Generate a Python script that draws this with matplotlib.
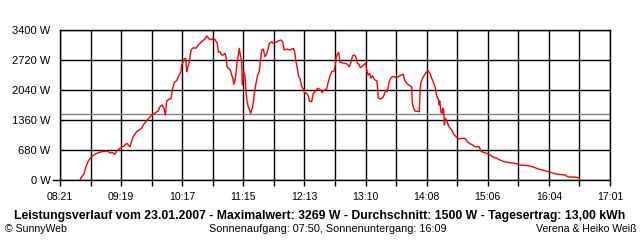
import numpy as np
import matplotlib.pyplot as plt

# Tagesverlauf: Uhrzeit in Minuten seit Mitternacht, Leistung in W
minutes = [519.9, 521.5, 523.7, 525.6, 527.8, 530.0, 531.9, 534.1, 537.2, 540.4,
           545.7, 548.3, 550.2, 553.0, 554.6, 557.7, 561.8, 564.1, 567.2, 568.8,
           570.3, 573.5, 578.2, 579.8, 583.5, 587.7, 591.8, 593.9, 595.5, 597.4,
           599.3, 600.6, 601.9, 604.3, 605.9, 607.2, 609.1, 611.3, 612.8, 615.4,
           616.1, 618.5, 619.8, 620.8, 621.7, 623.0, 624.9, 627.0, 629.3, 631.2,
           633.4, 635.5, 638.1, 639.7, 641.9, 644.4, 645.9, 647.5, 649.7, 650.7,
           652.3, 653.9, 655.4, 657.0, 657.9, 658.9, 660.1, 662.0, 663.3, 664.6,
           665.2, 666.5, 667.4, 668.3, 669.6, 670.5, 671.5, 672.8, 673.3, 674.7,
           675.9, 676.9, 677.8, 679.0, 680.6, 681.3, 682.8, 683.8, 684.7, 685.6,
           686.6, 687.9, 689.4, 691.7, 693.2, 694.8, 696.4, 697.9, 698.9, 701.2,
           702.7, 705.2, 707.4, 709.7, 711.6, 712.8, 715.3, 718.5, 720.3, 721.6,
           722.9, 724.1, 725.4, 726.7, 727.9, 729.5, 731.0, 732.6, 734.2, 735.7,
           736.7, 738.9, 740.5, 742.1, 743.7, 745.2, 747.5, 749.0, 750.6, 753.1,
           754.7, 756.3, 757.9, 760.1, 761.0, 761.9, 763.2, 764.5, 765.7, 771.4,
           772.6, 774.5, 775.8, 777.7, 779.6, 780.9, 782.1, 783.7, 784.9, 786.8,
           788.7, 790.0, 791.3, 792.5, 793.8, 795.0, 796.3, 797.6, 798.8, 800.7,
           801.9, 803.5, 805.2, 806.7, 808.3, 809.2, 810.5, 811.4, 812.3, 813.7,
           815.2, 817.1, 819.3, 820.8, 823.4, 825.6, 826.5, 827.8, 829.7, 831.9,
           833.5, 834.1, 835.4, 836.6, 840.7, 841.6, 842.3, 843.5, 844.5, 846.1,
           847.7, 849.2, 850.8, 852.4, 853.9, 855.5, 857.1, 858.7, 859.3, 860.0,
           861.2, 862.4, 862.8, 863.8, 864.3, 865.6, 866.9, 868.8, 871.3, 873.2,
           875.4, 876.6, 878.5, 880.8, 883.0, 884.8, 886.1, 888.6, 891.2, 893.4,
           897.4, 898.8, 901.2, 904.4, 907.5, 910.7, 913.9, 917.0, 920.8, 926.5,
           931.2, 935.9, 943.8, 948.5, 953.2, 958.0, 962.7, 967.4, 972.1, 978.5,
           981.6, 986.3, 992.0, 992.2]
watts = [0, 75, 136, 301, 431, 505, 551, 583, 619, 641,
         657, 612, 628, 583, 657, 719, 777, 832, 755, 884,
         981, 1095, 1172, 1247, 1360, 1473, 1535, 1564, 1661, 1700,
         1625, 1473, 1791, 1836, 1836, 2040, 2215, 2251, 2341, 2455,
         2607, 2743, 2759, 2455, 2546, 2645, 2947, 2999, 2985, 3044,
         3099, 3151, 3196, 3269, 3196, 3180, 3225, 3180, 3099, 2895,
         2908, 2833, 2833, 2872, 2795, 2568, 2532, 2493, 2380, 2289,
         2169, 2267, 2419, 2645, 2833, 2985, 2833, 2681, 2153, 2455,
         2341, 2001, 1791, 1661, 1564, 1512, 1625, 1761, 1965, 2092,
         2228, 2380, 2455, 2947, 2969, 2795, 2849, 2985, 3099, 3135,
         3099, 3121, 3151, 3173, 3135, 2947, 2969, 2947, 2969, 2985,
         2908, 2681, 2532, 2341, 2305, 2115, 2063, 1965, 1965, 1911,
         1791, 1775, 1965, 2001, 2056, 2079, 2033, 1979, 2040, 2063,
         2228, 2364, 2455, 2471, 2568, 2759, 2849, 2895, 2668, 2636,
         2623, 2568, 2645, 2817, 2833, 2781, 2645, 2623, 2546, 2577,
         2623, 2645, 2455, 2380, 2419, 2305, 2364, 2305, 2267, 2244,
         1866, 1836, 1852, 1888, 1988, 2040, 2001, 2115, 2228, 2305,
         2341, 2341, 2319, 2341, 2380, 2396, 2289, 2228, 2169, 2137,
         2115, 1739, 1625, 1564, 1548, 2079, 2215, 2289, 2341, 2396,
         2455, 2471, 2419, 2305, 2228, 2115, 1911, 1836, 1700, 1791,
         1534, 1512, 1625, 1564, 1247, 1399, 1321, 1208, 1133, 1036,
         981, 959, 929, 945, 945, 929, 868, 823, 793, 755,
         755, 657, 628, 605, 567, 521, 492, 453, 415, 392,
         379, 340, 324, 295, 249, 220, 188, 152, 129, 113,
         68, 68, 52, 23]

average = 1500
y_ticks = [0, 680, 1360, 2040, 2720, 3400]
x_labels = ["08:21", "09:19", "10:17", "11:15", "12:13",
            "13:10", "14:08", "15:06", "16:04", "17:01"]
t_start, t_end = 501, 1021

plt.rcParams['font.family'] = ['Liberation Sans', 'DejaVu Sans']

fig = plt.figure(figsize=(6.4, 2.4), dpi=100)
ax = fig.add_axes([60/640, 60/240, 550/640, 150/240])

grid = np.linspace(t_start, t_end, 19)
ax.set_xticks(grid[::2])
ax.set_xticklabels(x_labels)
ax.set_xticks(grid[1::2], minor=True)
ax.set_yticks(y_ticks)
ax.set_yticklabels([f"{v} W" for v in y_ticks])
ax.set_xlim(t_start, t_end)
ax.set_ylim(0, 3400)

for g in grid:
    ax.axvline(g, color='black', lw=1, zorder=1)
for v in y_ticks:
    ax.axhline(v, color='black', lw=1, zorder=1)
# Nulllinie ragt links etwas über die Achse hinaus
ax.axhline(0, xmin=-7/550, xmax=0, color='black', lw=1, clip_on=False)
ax.axhline(average, color='#808080', lw=1, zorder=2)

ax.plot(minutes, watts, color='red', lw=1, zorder=3)

ax.tick_params(axis='x', which='both', length=4.5, width=1, direction='out',
               labelsize=7.6, pad=4, color='black')
ax.tick_params(axis='y', length=0, labelsize=8, pad=7)
for s in ax.spines.values():
    s.set_linewidth(1)

fig.text(0.5, 24.5/240, "Leistungsverlauf vom 23.01.2007 - Maximalwert: 3269 W - "
         "Durchschnitt: 1500 W - Tagesertrag: 13,00 kWh",
         ha='center', va='center', fontsize=8.8, fontweight='bold')
fig.text(5/640, 10.5/240, "© SunnyWeb", ha='left', va='center', fontsize=7.6)
fig.text(328/640, 10.5/240, "Sonnenaufgang: 07:50, Sonnenuntergang: 16:09",
         ha='center', va='center', fontsize=7.8)
fig.text(636/640, 10.5/240, "Verena & Heiko Weiß", ha='right', va='center',
         fontsize=7.6)

fig.savefig("out.png", dpi=100)
